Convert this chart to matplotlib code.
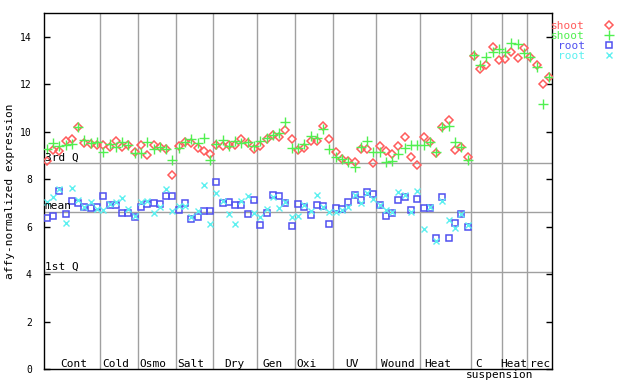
import matplotlib

matplotlib.use("Agg")

import matplotlib.pyplot as plt
import numpy as np

GROUP_NAMES = [
    "Cont", "Cold", "Osmo", "Salt", "Dry", "Gen", "Oxi",
    "UV", "Wound", "Heat", "C", "Heat", "rec",
]
GROUP_SIZES = [9, 6, 6, 6, 7, 6, 6, 7, 7, 8, 5, 4, 4]

SHOOT_A = [
    8.77, 9.22, 9.18, 9.61, 9.70, 10.21, 9.52, 9.50, 9.45,
    9.46, 9.37, 9.61, 9.37, 9.46, 9.15,
    9.45, 9.01, 9.46, 9.36, 9.26, 8.18,
    9.42, 9.56, 9.54, 9.33, 9.18, 9.05,
    9.43, 9.39, 9.43, 9.43, 9.69, 9.52, 9.26,
    9.40, 9.71, 9.88, 9.77, 10.06, 9.69,
    9.24, 9.31, 9.63, 9.63, 10.26, 9.69,
    9.15, 8.86, 8.76, 8.72, 9.26, 9.26, 8.67,
    9.39, 9.18, 9.05, 9.39, 9.77, 8.93, 8.59,
    9.77, 9.56, 9.11, 10.19, 10.49, 9.22, 9.35, 8.94,
    13.21, 12.63, 12.82, 13.58, 13.02,
    13.06, 13.35, 13.10, 13.52,
    13.14, 12.82, 12.02, 12.30,
]
SHOOT_B = [
    9.28, 9.52, 9.40, 9.46, 9.49, 10.21, 9.66, 9.52, 9.56,
    9.16, 9.50, 9.35, 9.57, 9.46, 9.12,
    9.12, 9.56, 9.29, 9.35, 9.28, 8.81,
    9.31, 9.56, 9.69, 9.52, 9.73, 8.80,
    9.49, 9.64, 9.40, 9.60, 9.52, 9.56, 9.40,
    9.60, 9.73, 9.85, 9.94, 10.40, 9.31,
    9.33, 9.49, 9.83, 9.74, 10.13, 9.26,
    8.94, 8.86, 8.72, 8.50, 9.36, 9.60, 9.14,
    9.14, 8.72, 8.77, 9.05, 9.31, 9.43, 9.45,
    9.46, 9.56, 9.14, 10.19, 10.23, 9.56, 9.35, 8.80,
    13.24, 12.82, 13.14, 13.35, 13.48,
    13.35, 13.73, 13.69, 13.31,
    13.14, 12.72, 11.17, 12.30,
]
ROOT_A = [
    6.35, 6.45, 7.52, 6.52, 7.08, 7.01, 6.85, 6.79, 6.82,
    7.28, 6.93, 6.90, 6.56, 6.56, 6.42,
    6.82, 6.95, 6.99, 6.95, 7.30, 7.30,
    6.69, 6.99, 6.33, 6.40, 6.65, 6.65,
    7.87, 7.01, 7.03, 6.90, 6.90, 6.52, 7.11,
    6.06, 6.56, 7.32, 7.28, 7.01, 6.02,
    6.96, 6.83, 6.48, 6.92, 6.86, 6.10,
    6.78, 6.76, 7.04, 7.32, 7.13, 7.45, 7.37,
    6.93, 6.44, 6.58, 7.13, 7.25, 6.69, 7.16,
    6.78, 6.80, 5.51, 7.24, 5.51, 6.14, 6.52, 5.99,
]
ROOT_B = [
    7.03, 7.24, 7.58, 6.14, 7.62, 7.13, 6.83, 7.04, 6.75,
    6.70, 6.95, 7.06, 7.21, 6.75, 6.45,
    7.04, 7.10, 6.56, 6.85, 7.59, 6.66,
    6.86, 6.86, 6.40, 6.68, 7.75, 6.10,
    7.41, 7.08, 6.52, 6.10, 7.10, 7.30, 6.56,
    6.42, 6.73, 7.24, 6.78, 7.03, 6.42,
    6.45, 6.90, 6.68, 7.34, 6.83, 6.62,
    6.62, 6.70, 6.83, 7.32, 7.01, 7.41, 7.16,
    6.93, 6.70, 6.62, 7.46, 7.34, 6.62, 7.49,
    5.90, 6.85, 5.41, 7.10, 6.27, 5.93, 6.52, 6.07,
]

QUANTILE_NAMES = ["3rd Q", "mean", "1st Q"]
QUANTILE_VALUES = [8.68, 6.63, 4.09]

# where each group label starts (sample index units), as drawn in the original
LABEL_X = [2.1, 8.9, 14.8, 20.8, 28.2, 34.4, 39.7, 47.5, 53.2, 60.1, 68.3, 72.2, 76.9]

MONO = "DejaVu Sans Mono"
GRID = "#a0a0a0"

fig = plt.figure(figsize=(6.4, 3.84), dpi=100)
ax = fig.add_axes([0.0692, 0.039, 0.7933, 0.9264])

series = [
    (SHOOT_A, "shoot", "#ff5c5c", dict(marker="D", markersize=4.2, mfc="none", mew=1.1)),
    (SHOOT_B, "shoot", "#50f050", dict(marker="+", markersize=6.5, mew=1.0)),
    (ROOT_A, "root", "#5050f0", dict(marker="s", markersize=4.6, mfc="none", mew=1.1)),
    (ROOT_B, "root", "#5cf0f0", dict(marker="x", markersize=4.6, mew=1.0)),
]

handles = []
for values, label, color, style in series:
    x = np.arange(len(values))
    (line,) = ax.plot(x, values, linestyle="none", color=color, label=label, zorder=3, **style)
    handles.append(line)

n_samples = sum(GROUP_SIZES)
edges = np.cumsum(GROUP_SIZES)[:-1] - 0.5
for edge in edges:
    ax.axvline(edge, color=GRID, lw=1, zorder=1)

for name, value in zip(QUANTILE_NAMES, QUANTILE_VALUES):
    ax.axhline(value, color=GRID, lw=1, zorder=1)
    ax.text(-0.35, value + 0.03, name, fontsize=8, family=MONO, va="bottom", ha="left")

label_tf = ax.get_xaxis_transform()
for name, xpos in zip(GROUP_NAMES, LABEL_X):
    ax.text(xpos, 0.005, name, transform=label_tf, fontsize=8, family=MONO, va="baseline", ha="left")
ax.text(66.8, -0.024, "suspension", transform=label_tf, fontsize=8, family=MONO,
        va="baseline", ha="left", clip_on=False)

ax.set_xlim(-0.4, n_samples - 0.55)
ax.set_ylim(0, 15)
ax.set_xticks([])
ax.set_yticks(np.arange(0, 15, 2))
ax.tick_params(axis="y", direction="in", length=4, width=1, right=True, pad=9,
               labelsize=7, labelfontfamily=MONO)
for spine in ax.spines.values():
    spine.set_linewidth(1)

ax.set_ylabel("affy-normalized expression", fontsize=8, family=MONO)
ax.yaxis.set_label_coords(-0.057, 0.5)

ax.legend(
    handles=handles,
    loc="upper right",
    bbox_to_anchor=(0.976, 0.958),
    bbox_transform=fig.transFigure,
    frameon=False,
    markerfirst=False,
    borderaxespad=0,
    handletextpad=1.2,
    labelspacing=0.02,
    prop={"family": MONO, "size": 8},
    labelcolor=[color for _, _, color, _ in series],
)

fig.savefig("out.png", dpi=100)
